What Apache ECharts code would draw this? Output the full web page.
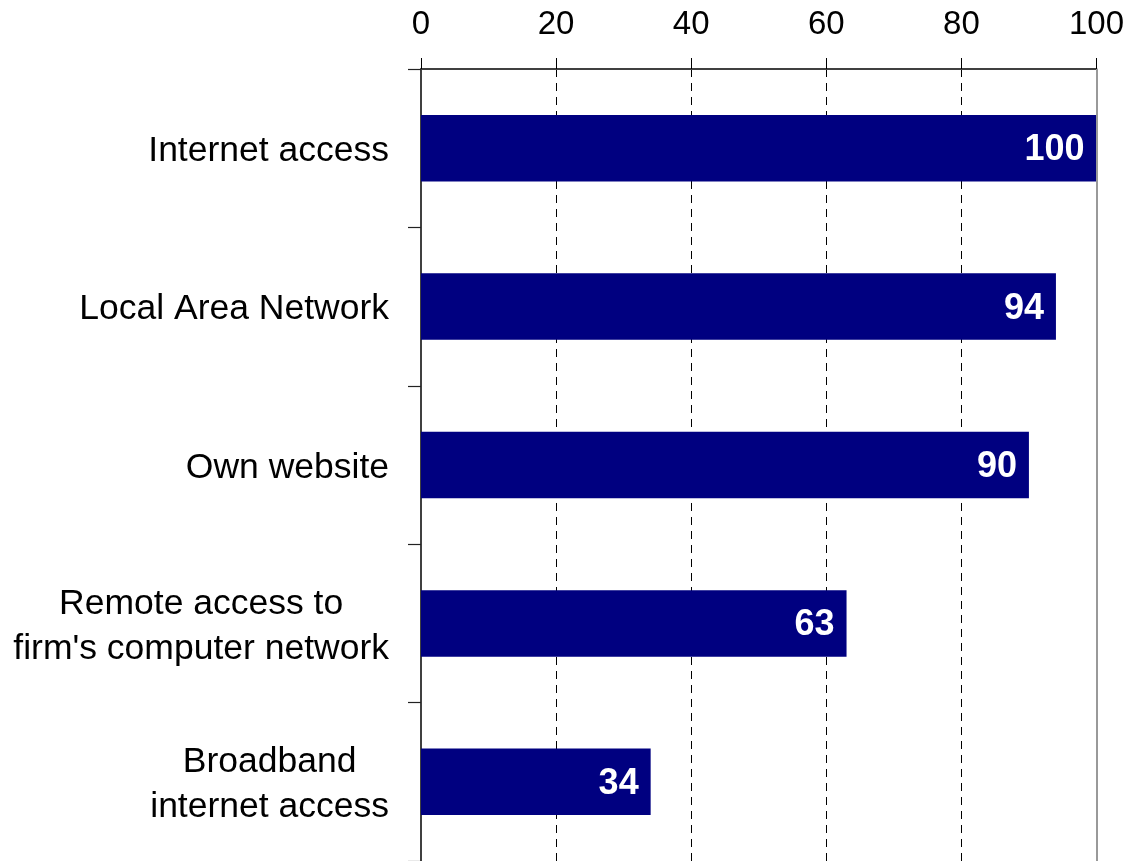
<!DOCTYPE html>
<html>
<head>
<meta charset="utf-8">
<script src="https://cdn.jsdelivr.net/npm/echarts@6/dist/echarts.min.js"></script>
<style>html,body{margin:0;padding:0;background:#fff}#c{width:1127px;height:861px}</style>
</head>
<body>
<div id="c"></div>
<script>
const categories = ["Internet access", "Local Area Network", "Own website", "Remote access to\nfirm's computer network", "Broadband\ninternet access"];
const values = [100, 94, 90, 63, 34];
const xTicks = { min: 0, max: 100, interval: 20 };

const FONT = '"Liberation Sans", Arial, sans-serif';
const chart = echarts.init(document.getElementById('c'));
chart.setOption({
  animation: false,
  backgroundColor: '#ffffff',
  grid: { left: 421, right: 30, top: 69, bottom: 0, containLabel: false },
  xAxis: {
    type: 'value', position: 'top',
    min: xTicks.min, max: xTicks.max, interval: xTicks.interval,
    axisLine: { show: true, lineStyle: { color: '#404040', width: 2 } },
    axisTick: { show: true, length: 11, lineStyle: { color: '#000', width: 1 } },
    axisLabel: { color: '#000', fontSize: 33, fontFamily: FONT, margin: 28 },
    splitLine: { show: true, showMinLine: false, showMaxLine: false, lineStyle: { color: '#000', type: [8, 6], width: 1 } }
  },
  yAxis: {
    type: 'category', inverse: true, data: categories,
    axisLine: { show: true, lineStyle: { color: '#000', width: 1.5 } },
    axisTick: { show: true, length: 13, lineStyle: { color: '#222', width: 1.2 } },
    axisLabel: {
      color: '#000', fontSize: 35.5, fontFamily: FONT, margin: 32, padding: [6, 0, 0, 0],
      formatter: v => v.split('\n').map(s => '{a|' + s + '}').join('\n'),
      rich: { a: { align: 'center', fontSize: 35.5, fontFamily: FONT, color: '#000', lineHeight: 45 } }
    },
    splitLine: { show: false }
  },
  series: [{
    type: 'bar', data: values, barWidth: '42%',
    itemStyle: { color: '#000080' },
    label: { show: true, position: 'insideRight', distance: 12, offset: [0, 2], color: '#fff', fontWeight: 'bold', fontSize: 36, fontFamily: FONT },
    markLine: {
      silent: true, symbol: 'none', label: { show: false },
      lineStyle: { color: '#999', type: 'solid', width: 2 },
      data: [{ xAxis: xTicks.max }]
    },
    z: 2
  }]
});
</script>
</body>
</html>
